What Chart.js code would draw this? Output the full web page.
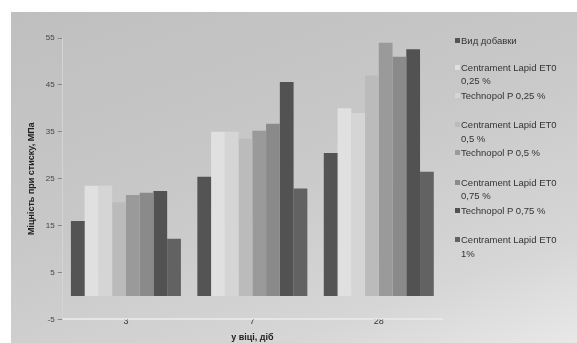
<!DOCTYPE html>
<html>
<head>
<meta charset="utf-8">
<script src="https://cdn.jsdelivr.net/npm/chart.js@4"></script>
<style>
  body { margin: 0; background: #fff; }
  #fon { position: absolute; left: 11px; top: 12px; width: 566px; height: 331px;
         background: linear-gradient(160deg, #bfbfbf 0%, #c8c8c8 45%, #d6d6d6 80%, #e8e8e8 100%); }
  #box { position: absolute; left: 0; top: 0; width: 577px; height: 343px; }
  #legenda { position: absolute; left: 455px; top: 34px; width: 106px;
             font-family: "Liberation Sans", Arial, sans-serif; font-size: 9.5px; color: #333; line-height: 13.5px; }
  #legenda .item { position: relative; padding-left: 6px; }
  #legenda .item span.m { position: absolute; left: 0; top: 4px; width: 5px; height: 5px; }
  #legenda .tytul { margin-bottom: 13px; }
  #legenda .par { margin-bottom: 16px; }
  #legenda .par .item { margin-bottom: 1px; }
</style>
</head>
<body>
<div id="fon"></div>
<div id="box"><canvas id="graficoMicnist" width="577" height="343"></canvas></div>
<div id="legenda"></div>
<script>
const vik = ['3', '7', '28']
const nazvySerij = [
    'Вид добавки',
    'Centrament Lapid ET0 0,25 %',
    'Technopol P 0,25 %',
    'Centrament Lapid ET0 0,5 %',
    'Technopol P 0,5 %',
    'Centrament Lapid ET0 0,75 %',
    'Technopol P 0,75 %',
    'Centrament Lapid ET0 1%'
]
const kolory = ['#545454', '#e0e0e0', '#d5d5d5', '#bbbbbb', '#9a9a9a', '#8a8a8a', '#525252', '#626262']
const znachennya = [
    [16.0, 25.4, 30.5],
    [23.5, 35.0, 40.0],
    [23.5, 35.0, 39.0],
    [20.0, 33.5, 47.0],
    [21.5, 35.2, 54.0],
    [22.0, 36.7, 51.0],
    [22.4, 45.6, 52.6],
    [12.2, 22.9, 26.5]
]
const tykiY = [-5, 5, 15, 25, 35, 45, 55]

let datasets = []
for (let i = 0; i < nazvySerij.length; i++) {
    datasets.push({
        label: nazvySerij[i],
        data: znachennya[i],
        backgroundColor: kolory[i],
        borderWidth: 0,
        categoryPercentage: 0.87,
        barPercentage: 1.0
    })
}

// legenda robymo v html, bo tekst perenosytsya
function tekst(s) {
    return s.replace(' %', '\u00a0%')
}
let leg = document.getElementById('legenda')
let html = `<div class="item tytul"><span class="m" style="background:${kolory[0]}"></span>${nazvySerij[0]}</div>`
for (let i = 1; i < nazvySerij.length; i += 2) {
    html += '<div class="par">'
    html += `<div class="item"><span class="m" style="background:${kolory[i]}"></span>${tekst(nazvySerij[i])}</div>`
    if (nazvySerij[i + 1])
        html += `<div class="item"><span class="m" style="background:${kolory[i + 1]}"></span>${tekst(nazvySerij[i + 1])}</div>`
    html += '</div>'
}
leg.innerHTML = html

const grafik = new Chart(document.getElementById('graficoMicnist'), {
    type: 'bar',
    data: {
        labels: vik,
        datasets: datasets
    },
    options: {
        responsive: false,
        animation: false,
        layout: {
            padding: { left: 26, right: 135, top: 38, bottom: 0 }
        },
        plugins: {
            legend: { display: false },
            tooltip: { enabled: false }
        },
        scales: {
            x: {
                grid: { display: false, drawTicks: false },
                border: { display: true, color: '#e6e6e6', width: 2 },
                ticks: {
                    color: '#333',
                    padding: -3,
                    font: { family: 'Liberation Sans', size: 9 }
                },
                title: {
                    display: true,
                    text: 'у віці, діб',
                    color: '#222',
                    padding: { top: 8, bottom: 0 },
                    font: { family: 'Liberation Sans', size: 9, weight: 'bold' }
                }
            },
            y: {
                min: -5,
                max: 55,
                afterBuildTicks: function (axis) {
                    axis.ticks = tykiY.map(v => ({ value: v }))
                },
                grid: {
                    drawOnChartArea: false,
                    drawTicks: true,
                    tickLength: 5,
                    color: '#888'
                },
                border: { display: true, color: '#d4d4d4', width: 1 },
                ticks: {
                    color: '#444',
                    padding: 3,
                    font: { family: 'Liberation Sans', size: 8 }
                },
                title: {
                    display: true,
                    text: 'Міцність при стиску, МПа',
                    color: '#222',
                    padding: { top: 0, bottom: 6 },
                    font: { family: 'Liberation Sans', size: 9, weight: 'bold' }
                }
            }
        }
    }
})
</script>
</body>
</html>
